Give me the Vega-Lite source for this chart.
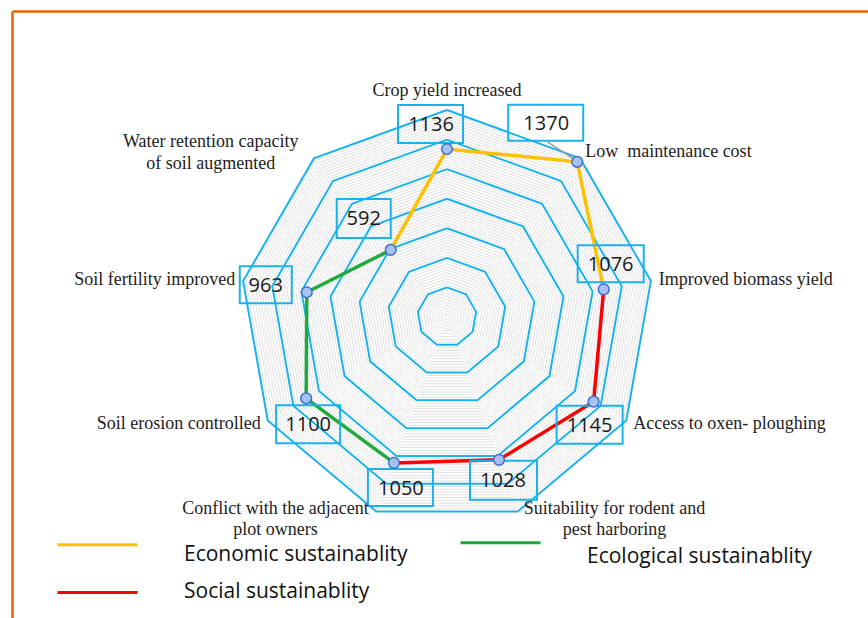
{
  "$schema": "https://vega.github.io/schema/vega-lite/v6.json",
  "width": 856,
  "height": 607,
  "autosize": {"type": "none"},
  "padding": {"left": 12, "top": 11, "right": 0, "bottom": 0},
  "background": "white",
  "config": {"view": {"stroke": null}},
  "datasets": {
    "criteria": [
      {"idx": 0, "criterion": "Crop yield increased", "label": ["Crop yield increased"], "value": 1136},
      {"idx": 1, "criterion": "Low maintenance cost", "label": ["Low\u00a0 maintenance cost"], "value": 1370},
      {"idx": 2, "criterion": "Improved biomass yield", "label": ["Improved biomass yield"], "value": 1076},
      {"idx": 3, "criterion": "Access to oxen- ploughing", "label": ["Access to oxen- ploughing"], "value": 1145},
      {"idx": 4, "criterion": "Suitability for rodent and pest harboring", "label": ["Suitability for rodent and", "pest harboring"], "value": 1028},
      {"idx": 5, "criterion": "Conflict with the adjacent plot owners", "label": ["Conflict with the adjacent", "plot owners"], "value": 1050},
      {"idx": 6, "criterion": "Soil erosion controlled", "label": ["Soil erosion controlled"], "value": 1100},
      {"idx": 7, "criterion": "Soil fertility improved", "label": ["Soil fertility improved"], "value": 963},
      {"idx": 8, "criterion": "Water retention capacity of soil augmented", "label": ["Water retention capacity", "of soil augmented"], "value": 592}
    ],
    "series": [
      {"series": "Economic sustainablity", "idx": 8, "seq": 0, "value": 592},
      {"series": "Economic sustainablity", "idx": 0, "seq": 1, "value": 1136},
      {"series": "Economic sustainablity", "idx": 1, "seq": 2, "value": 1370},
      {"series": "Economic sustainablity", "idx": 2, "seq": 3, "value": 1076},
      {"series": "Social sustainablity", "idx": 2, "seq": 0, "value": 1076},
      {"series": "Social sustainablity", "idx": 3, "seq": 1, "value": 1145},
      {"series": "Social sustainablity", "idx": 4, "seq": 2, "value": 1028},
      {"series": "Social sustainablity", "idx": 5, "seq": 3, "value": 1050},
      {"series": "Ecological sustainablity", "idx": 5, "seq": 0, "value": 1050},
      {"series": "Ecological sustainablity", "idx": 6, "seq": 1, "value": 1100},
      {"series": "Ecological sustainablity", "idx": 7, "seq": 2, "value": 963},
      {"series": "Ecological sustainablity", "idx": 8, "seq": 3, "value": 592}
    ],
    "rings": [
      {"r": 20}, {"r": 40}, {"r": 60}, {"r": 80}, {"r": 100}, {"r": 120}, {"r": 140}, {"r": 160}, {"r": 180}, {"r": 200},
      {"r": 220}, {"r": 240}, {"r": 260}, {"r": 280}, {"r": 300}, {"r": 320}, {"r": 340}, {"r": 360}, {"r": 380}, {"r": 400},
      {"r": 420}, {"r": 440}, {"r": 460}, {"r": 480}, {"r": 500}, {"r": 520}, {"r": 540}, {"r": 560}, {"r": 580}, {"r": 600},
      {"r": 620}, {"r": 640}, {"r": 660}, {"r": 680}, {"r": 700}, {"r": 720}, {"r": 740}, {"r": 760}, {"r": 780}, {"r": 800},
      {"r": 820}, {"r": 840}, {"r": 860}, {"r": 880}, {"r": 900}, {"r": 920}, {"r": 940}, {"r": 960}, {"r": 980}, {"r": 1000},
      {"r": 1020}, {"r": 1040}, {"r": 1060}, {"r": 1080}, {"r": 1100}, {"r": 1120}, {"r": 1140}, {"r": 1160}, {"r": 1180}, {"r": 1200},
      {"r": 1220}, {"r": 1240}, {"r": 1260}, {"r": 1280}, {"r": 1300}, {"r": 1320}, {"r": 1340}, {"r": 1360}, {"r": 1380}, {"r": 1400}
    ]
  },
  "encoding": {
    "x": {"field": "px", "type": "quantitative", "scale": {"domain": [-2942.0, 2847.3], "nice": false, "zero": false},
      "axis": {"orient": "top", "domain": true, "domainColor": "#e8620c", "domainWidth": 2.5, "ticks": false, "labels": false, "grid": false, "title": null}},
    "y": {"field": "py", "type": "quantitative", "scale": {"domain": [-2035.8, 2069.6], "nice": false, "zero": false},
      "axis": {"orient": "left", "domain": true, "domainColor": "#e8620c", "domainWidth": 2.5, "ticks": false, "labels": false, "grid": false, "title": null}}
  },
  "layer": [
    {
      "data": {"name": "rings"},
      "transform": [
        {"filter": "datum.r % 200 != 0"},
        {"calculate": "[0,1,2,3,4,5,6,7,8,9]", "as": "v"},
        {"flatten": ["v"]},
        {"calculate": "datum.v*2*PI/9", "as": "ang"},
        {"calculate": "datum.r*sin(datum.ang)", "as": "px"},
        {"calculate": "datum.r*cos(datum.ang)", "as": "py"}
      ],
      "mark": {"type": "line", "stroke": "#e0e0e0", "strokeWidth": 1},
      "encoding": {"detail": {"field": "r", "type": "nominal"}, "order": {"field": "v", "type": "quantitative"}}
    },
    {
      "data": {"name": "rings"},
      "transform": [
        {"filter": "datum.r % 200 == 0"},
        {"calculate": "[0,1,2,3,4,5,6,7,8,9]", "as": "v"},
        {"flatten": ["v"]},
        {"calculate": "datum.v*2*PI/9", "as": "ang"},
        {"calculate": "datum.r*sin(datum.ang)", "as": "px"},
        {"calculate": "datum.r*cos(datum.ang)", "as": "py"}
      ],
      "mark": {"type": "line", "stroke": "#1ab2ec", "strokeWidth": 2},
      "encoding": {"detail": {"field": "r", "type": "nominal"}, "order": {"field": "v", "type": "quantitative"}}
    },
    {
      "data": {"name": "series"},
      "transform": [
        {"calculate": "datum.idx*2*PI/9", "as": "ang"},
        {"calculate": "datum.value*sin(datum.ang)", "as": "px"},
        {"calculate": "datum.value*cos(datum.ang)", "as": "py"}
      ],
      "mark": {"type": "line", "strokeWidth": 3.5},
      "encoding": {
        "color": {"field": "series", "type": "nominal",
          "scale": {"domain": ["Economic sustainablity", "Ecological sustainablity", "Social sustainablity"], "range": ["#ffc000", "#1faa3c", "#ff0000"]},
          "legend": {"orient": "none", "direction": "horizontal", "legendX": 44, "legendY": 520, "columns": 2, "title": null, "padding": 0,
            "symbolType": "M-4,0H4", "symbolSize": 400, "symbolStrokeWidth": 3, "symbolOffset": 30,
            "labelOffset": 75, "labelFont": "Open Sans", "labelFontSize": 21, "labelColor": "#111111", "labelBaseline": "top", "labelLimit": 0,
            "rowPadding": 13, "columnPadding": 46,
            "encode": {"labels": {"update": {"dy": {"signal": "datum.value === 'Social sustainablity' ? -12 : (datum.value === 'Ecological sustainablity' ? 3 : -1)"}}}}}
        },
        "order": {"field": "seq", "type": "quantitative"}
      }
    },
    {
      "data": {"name": "criteria"},
      "transform": [
        {"filter": "datum.idx == 1"},
        {"calculate": "datum.idx*2*PI/9", "as": "ang"},
        {"calculate": "datum.value*sin(datum.ang)", "as": "px"},
        {"calculate": "datum.value*cos(datum.ang)", "as": "py"}
      ],
      "mark": {"type": "point", "shape": "M-30,-20L-5,-4", "size": 4, "stroke": "#9a9a9a", "strokeWidth": 1.5, "filled": false, "opacity": 1}
    },
    {
      "data": {"name": "criteria"},
      "transform": [
        {"calculate": "datum.idx*2*PI/9", "as": "ang"},
        {"calculate": "datum.value*sin(datum.ang)", "as": "px"},
        {"calculate": "datum.value*cos(datum.ang)", "as": "py"}
      ],
      "mark": {"type": "point", "size": 4, "stroke": "#1ab2ec", "strokeWidth": 2, "filled": false, "opacity": 1},
      "encoding": {
        "shape": {"field": "idx", "type": "nominal", "legend": null,
          "scale": {"domain": [0, 1, 2, 3, 4, 5, 6, 7, 8],
            "range": ["M-49,-44H16V-6H-49Z", "M-69,-57H6V-21H-69Z", "M-26,-44H40V-7H-26Z", "M-37,4H29V42H-37Z", "M-29,1H38V40H-29Z", "M-26,6H39V43H-26Z", "M-30,7H34V45H-30Z", "M-67,-26H-15V11H-67Z", "M-54,-51H0V-12H-54Z"]}}
      }
    },
    {
      "data": {"name": "criteria"},
      "transform": [
        {"calculate": "datum.idx*2*PI/9", "as": "ang"},
        {"calculate": "datum.value*sin(datum.ang)", "as": "px"},
        {"calculate": "datum.value*cos(datum.ang)", "as": "py"}
      ],
      "mark": {"type": "point", "shape": "circle", "size": 115, "filled": true, "fill": "#a6c1f2", "stroke": "#3e6fcc", "strokeWidth": 1.5, "opacity": 1}
    },
    {
      "data": {"name": "criteria"},
      "transform": [
        {"calculate": "datum.idx*2*PI/9", "as": "ang"},
        {"calculate": "datum.value*sin(datum.ang)", "as": "px"},
        {"calculate": "datum.value*cos(datum.ang)", "as": "py"}
      ],
      "mark": {"type": "text", "font": "Open Sans", "fontSize": 20, "color": "#1a1a1a", "align": "center", "baseline": "middle",
        "dx": {"expr": "[-16,-31,7,-4,4,7,2,-41,-27][datum.idx]"},
        "dy": {"expr": "[-24,-38,-24,24,21,26,27,-6,-31][datum.idx]"}},
      "encoding": {"text": {"field": "value", "type": "quantitative"}}
    },
    {
      "data": {"name": "criteria"},
      "transform": [
        {"filter": "datum.idx == 0"},
        {"calculate": "datum.idx*2*PI/9", "as": "ang"},
        {"calculate": "1454*sin(datum.ang)", "as": "px"},
        {"calculate": "1454*cos(datum.ang)", "as": "py"}
      ],
      "mark": {"type": "text", "font": "Liberation Serif", "fontSize": 18, "color": "#222222", "align": "center", "baseline": "bottom", "dy": -2},
      "encoding": {"text": {"field": "label"}}
    },
    {
      "data": {"name": "criteria"},
      "transform": [
        {"filter": "datum.idx >= 1 && datum.idx <= 3"},
        {"calculate": "datum.idx*2*PI/9", "as": "ang"},
        {"calculate": "1454*sin(datum.ang)", "as": "px"},
        {"calculate": "1454*cos(datum.ang)", "as": "py"}
      ],
      "mark": {"type": "text", "font": "Liberation Serif", "fontSize": 18, "color": "#222222", "align": "left", "baseline": "middle"},
      "encoding": {"text": {"field": "label"}}
    },
    {
      "data": {"name": "criteria"},
      "transform": [
        {"filter": "datum.idx == 6 || datum.idx == 7"},
        {"calculate": "datum.idx*2*PI/9", "as": "ang"},
        {"calculate": "1454*sin(datum.ang)", "as": "px"},
        {"calculate": "1454*cos(datum.ang)", "as": "py"}
      ],
      "mark": {"type": "text", "font": "Liberation Serif", "fontSize": 18, "color": "#222222", "align": "right", "baseline": "middle"},
      "encoding": {"text": {"field": "label"}}
    },
    {
      "data": {"name": "criteria"},
      "transform": [
        {"filter": "datum.idx == 4 || datum.idx == 5"},
        {"calculate": "datum.idx*2*PI/9", "as": "ang"},
        {"calculate": "1454*sin(datum.ang)", "as": "px"},
        {"calculate": "1454*cos(datum.ang)", "as": "py"}
      ],
      "mark": {"type": "text", "font": "Liberation Serif", "fontSize": 18, "lineHeight": 21, "color": "#222222", "align": "center", "baseline": "top",
        "dx": {"expr": "datum.idx == 4 ? 94 : -98"}, "dy": -19},
      "encoding": {"text": {"field": "label"}}
    },
    {
      "data": {"name": "criteria"},
      "transform": [
        {"filter": "datum.idx == 8"},
        {"calculate": "datum.idx*2*PI/9", "as": "ang"},
        {"calculate": "1454*sin(datum.ang)", "as": "px"},
        {"calculate": "1454*cos(datum.ang)", "as": "py"}
      ],
      "mark": {"type": "text", "font": "Liberation Serif", "fontSize": 18, "lineHeight": 22, "color": "#222222", "align": "center", "baseline": "middle", "dx": -98, "dy": -10},
      "encoding": {"text": {"field": "label"}}
    }
  ]
}
